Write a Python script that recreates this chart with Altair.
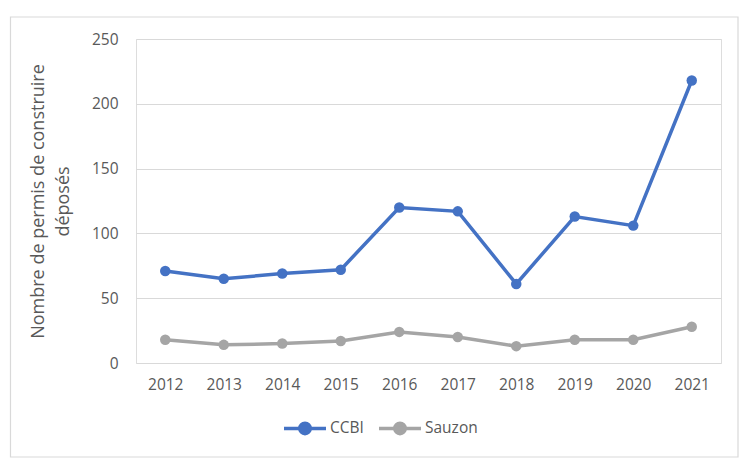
import altair as alt
import pandas as pd

years = ["2012", "2013", "2014", "2015", "2016", "2017", "2018", "2019", "2020", "2021"]
ccbi = [71, 65, 69, 72, 120, 117, 61, 113, 106, 218]
sauzon = [18, 14, 15, 17, 24, 20, 13, 18, 18, 28]
series = ["CCBI", "Sauzon"]
colors = ["#4472C4", "#A5A5A5"]
y_ticks = [0, 50, 100, 150, 200, 250]

rows = []
for i, y in enumerate(years):
    rows.append({"year": y, "series": "CCBI", "value": ccbi[i]})
    rows.append({"year": y, "series": "Sauzon", "value": sauzon[i]})
df = pd.DataFrame(rows)

FONT = "Open Sans"
GREY = "#595959"

legend_symbol = "M-1,0H1M-0.25,0A0.25,0.25 0 1,1 0.25,0A0.25,0.25 0 1,1 -0.25,0Z"

base = alt.Chart(df).encode(
    x=alt.X("year:O", scale=alt.Scale(padding=0.5), sort=years,
            axis=alt.Axis(title=None, labelAngle=0, ticks=False, domain=False,
                          labelPadding=14, labelFontSize=15.5, labelColor=GREY, labelFont=FONT)),
    y=alt.Y("value:Q", scale=alt.Scale(domain=[0, 250]),
            axis=alt.Axis(values=y_ticks, title=["Nombre de permis de construire", "déposés"],
                          ticks=False, domain=False, labelPadding=18, labelFontSize=15.5,
                          labelColor=GREY, labelFont=FONT, titleFont=FONT, titleFontSize=18,
                          titleFontWeight="normal", titleColor=GREY, titlePadding=19,
                          titleLineHeight=25, gridColor="#D9D9D9", gridWidth=1)),
    color=alt.Color("series:N", scale=alt.Scale(domain=series, range=colors),
                    legend=alt.Legend(title=None, orient="none", direction="horizontal",
                                      legendX=146, legendY=366, symbolType=legend_symbol,
                                      symbolSize=1764, symbolStrokeWidth=3.5,
                                      labelFont=FONT, labelFontSize=15.5, labelColor=GREY,
                                      labelOffset=2, columnPadding=8)),
)

lines = base.mark_line(strokeWidth=3.5, point=alt.OverlayMarkDef(filled=True, size=110, opacity=1))

frame = alt.Chart(pd.DataFrame({"a": [0]})).mark_rect(
    fill=None, stroke="#D9D9D9", strokeWidth=1.2, clip=False
).encode(x=alt.value(-125.5), x2=alt.value(602), y=alt.value(-22), y2=alt.value(418))

chart = alt.layer(frame, lines).properties(
    width=585, height=324,
    padding={"left": 128, "top": 31, "right": 18, "bottom": 98},
    autosize=alt.AutoSizeParams(type="none"),
).configure_view(stroke=None).configure(background="white")

chart.save("out.html", embed_options={"renderer": "svg", "actions": False})
